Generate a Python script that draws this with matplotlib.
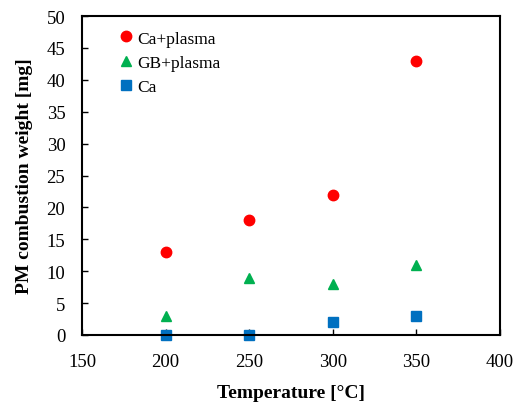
import matplotlib
matplotlib.use("Agg")
import matplotlib.pyplot as plt

temps = [200, 250, 300, 350]
ca_plasma = [13, 18, 22, 43]
gb_plasma = [3, 9, 8, 11]
ca = [0, 0, 2, 3]

plt.rcParams['font.family'] = ['Liberation Serif', 'DejaVu Serif']

fig = plt.figure(figsize=(5.18, 4.06), dpi=100)
ax = fig.add_axes([82/518, (406-336)/406, 418/518, 319/406])

ax.plot(temps, ca_plasma, 'o', color='#FF0000', ms=7.5, label='Ca+plasma', clip_on=False)
ax.plot(temps, gb_plasma, '^', color='#00B050', ms=7.5, label='GB+plasma', clip_on=False)
ax.plot(temps, ca, 's', color='#0070C0', ms=7.5, label='Ca', clip_on=False)

ax.set_xlim(150, 400)
ax.set_ylim(0, 50)
ax.set_xticks([150, 200, 250, 300, 350, 400])
ax.set_yticks(range(0, 51, 5))
ax.tick_params(direction='in', labelsize=13.5, length=4, width=1)
ax.tick_params(axis='x', pad=13)
ax.tick_params(axis='y', pad=12)
for s in ax.spines.values():
    s.set_linewidth(1.5)

ax.set_xlabel('Temperature [\u00b0C]', fontsize=14, fontweight='bold', labelpad=10)
ax.set_ylabel('PM combustion weight [mg]', fontsize=14, fontweight='bold', labelpad=10)

leg = ax.legend(loc='upper left', frameon=False, fontsize=12.5, handletextpad=0.15,
                handlelength=1.0, borderaxespad=0.0, borderpad=0.0, labelspacing=0.48,
                bbox_to_anchor=(0.085, 0.955))

fig.savefig('out.png', dpi=100)
